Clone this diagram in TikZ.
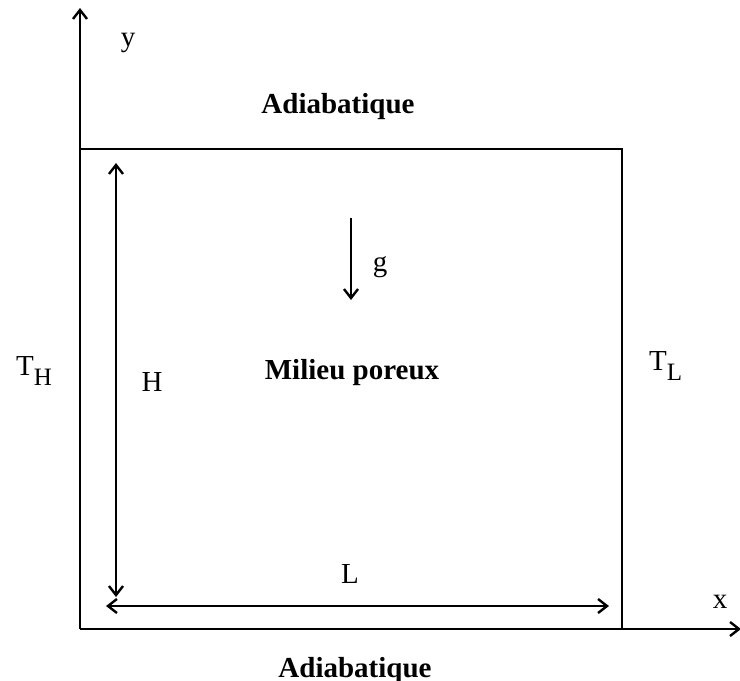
\documentclass[tikz,border=0pt]{standalone}
\usepackage{fontspec}
\setmainfont{Liberation Serif}
\usetikzlibrary{arrows.meta}
\newcommand{\lowidx}[1]{\raisebox{-5pt}{\fontsize{12.5}{13}\selectfont #1}}

\begin{document}
\begin{tikzpicture}[x=0.5pt, y=-0.5pt, line width=1.2pt,
    >={Straight Barb[length=4.5pt, width=7pt]},
    lbl/.style={font=\fontsize{14.5}{17}\selectfont, inner sep=0pt, anchor=base},
    boldlbl/.style={lbl, font=\fontsize{14.5}{17}\selectfont\bfseries}]
    \useasboundingbox (0,0) rectangle (740,681);

    %mark corners of the cavity
        \coordinate[] (O) at (80,629);
        \coordinate[] (A) at (80,149);
        \coordinate[] (B) at (622,149);
        \coordinate[] (C) at (622,629);

    %ends of axes and arrows
        \coordinate[] (X) at (741,629);
        \coordinate[] (Y) at (80,8);
        \coordinate[] (H1) at (116,163);
        \coordinate[] (H2) at (116,597);
        \coordinate[] (L1) at (106,606);
        \coordinate[] (L2) at (609,606);
        \coordinate[] (G1) at (351,218);
        \coordinate[] (G2) at (351,300);

    %draw cavity, axes and dimensions
        \draw (A) -- (B) -- (C);
        \draw[->] (O) -- (X);
        \draw[->] (O) -- (Y);
        \draw[<->] (H1) -- (H2);
        \draw[<->] (L1) -- (L2);
        \draw[->] (G1) -- (G2);

    %labels
        \node[lbl] (ylbl) at (128,46) {y};
        \node[lbl] (xlbl) at (720,608) {x};
        \node[boldlbl] (topwall) at (338,113) {Adiabatique};
        \node[boldlbl] (botwall) at (355,677) {Adiabatique};
        \node[boldlbl] (medium) at (352,379) {Milieu poreux};
        \node[lbl] (glbl) at (380,271) {g};
        \node[lbl] (Hlbl) at (152,391) {H};
        \node[lbl] (Llbl) at (350,583) {L};
        \node[lbl, anchor=base west] (THlbl) at (15,375) {T\lowidx{H}};
        \node[lbl, anchor=base west] (TLlbl) at (648,370) {T\lowidx{L}};

\end{tikzpicture}
\end{document}
